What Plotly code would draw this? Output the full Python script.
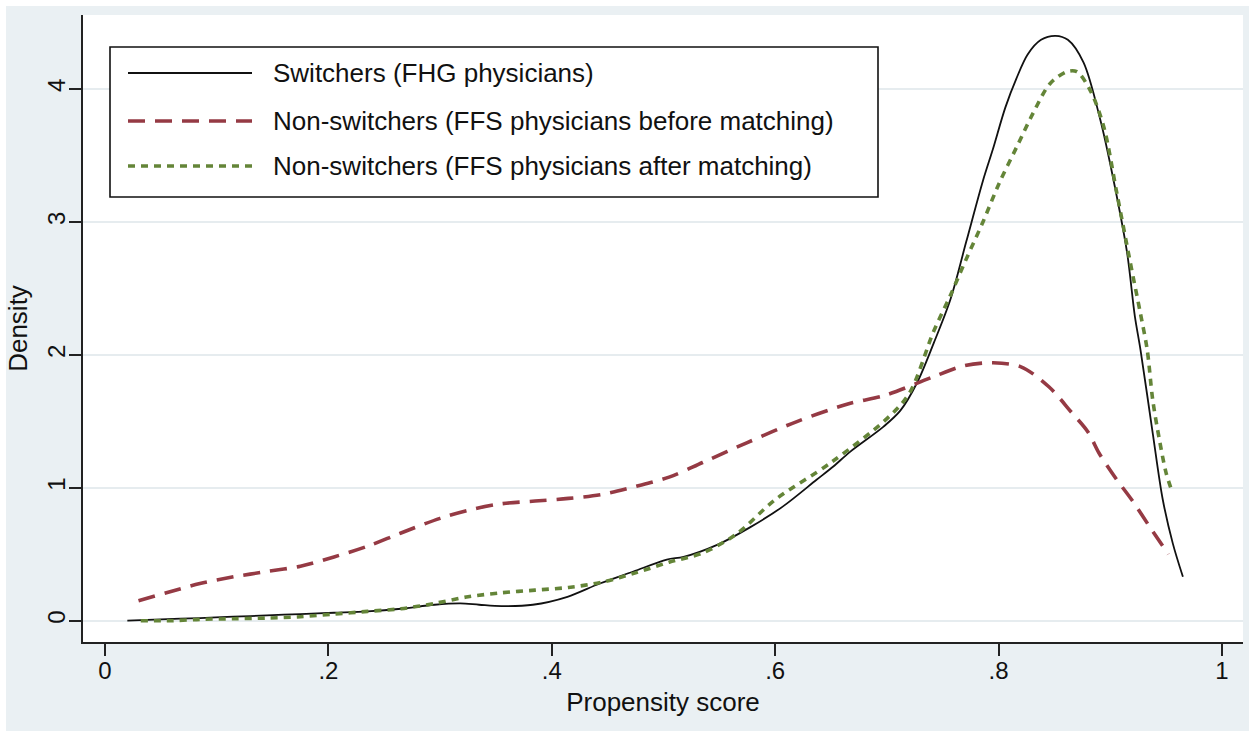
import plotly.graph_objects as go

# Kernel density estimates of the propensity score, by group
switch_x = [0.02, 0.05, 0.085, 0.115, 0.145, 0.175, 0.205, 0.235, 0.265, 0.295,
            0.318, 0.335, 0.355, 0.383, 0.414, 0.443, 0.473, 0.503, 0.518, 0.548,
            0.577, 0.607, 0.637, 0.652, 0.667, 0.697, 0.712, 0.727, 0.742, 0.757,
            0.771, 0.786, 0.795, 0.806, 0.816, 0.826, 0.838, 0.851, 0.862, 0.876,
            0.891, 0.903, 0.915, 0.922, 0.927, 0.938, 0.947, 0.956, 0.965]
switch_y = [0.0, 0.01, 0.02, 0.03, 0.04, 0.05, 0.06, 0.07, 0.09, 0.12,
            0.13, 0.12, 0.11, 0.12, 0.18, 0.28, 0.37, 0.46, 0.48, 0.57,
            0.70, 0.86, 1.06, 1.16, 1.27, 1.46, 1.58, 1.79, 2.09, 2.42,
            2.85, 3.31, 3.55, 3.86, 4.08, 4.26, 4.37, 4.40, 4.37, 4.20,
            3.77, 3.31, 2.77, 2.29, 2.04, 1.41, 0.91, 0.58, 0.33]

before_x = [0.03, 0.055, 0.085, 0.115, 0.145, 0.175, 0.205, 0.235, 0.265, 0.3,
            0.33, 0.355, 0.385, 0.415, 0.445, 0.475, 0.505, 0.535, 0.575, 0.62,
            0.665, 0.70, 0.74, 0.77, 0.795, 0.82, 0.845, 0.865, 0.88, 0.89,
            0.905, 0.92, 0.935, 0.952]
before_y = [0.15, 0.21, 0.28, 0.33, 0.37, 0.41, 0.48, 0.56, 0.66, 0.77,
            0.84, 0.88, 0.90, 0.92, 0.95, 1.01, 1.08, 1.19, 1.34, 1.50,
            1.63, 1.70, 1.83, 1.92, 1.94, 1.91, 1.76, 1.57, 1.42, 1.26,
            1.07, 0.90, 0.71, 0.50]

after_x = [0.032, 0.06, 0.085, 0.115, 0.145, 0.175, 0.205, 0.235, 0.265, 0.295,
           0.325, 0.355, 0.385, 0.415, 0.445, 0.475, 0.505, 0.535, 0.565, 0.6,
           0.65, 0.7, 0.72, 0.742, 0.757, 0.771, 0.786, 0.801, 0.816, 0.831,
           0.846, 0.861, 0.870, 0.882, 0.894, 0.906, 0.918, 0.927, 0.933, 0.938,
           0.944, 0.950, 0.955]
after_y = [0.0, 0.0, 0.01, 0.015, 0.02, 0.03, 0.05, 0.07, 0.09, 0.13,
           0.18, 0.21, 0.23, 0.25, 0.29, 0.36, 0.44, 0.51, 0.65, 0.91,
           1.19, 1.52, 1.71, 2.18, 2.45, 2.72, 3.0, 3.3, 3.56, 3.82,
           4.04, 4.13, 4.13, 3.99, 3.72, 3.21, 2.69, 2.31, 2.04, 1.66,
           1.36, 1.11, 0.98]

series_names = ["Switchers (FHG physicians)",
                "Non-switchers (FFS physicians before matching)",
                "Non-switchers (FFS physicians after matching)"]

x_tickvals = [0, 0.2, 0.4, 0.6, 0.8, 1.0]
x_ticktext = ["0", ".2", ".4", ".6", ".8", "1"]
y_tickvals = [0, 1, 2, 3, 4]
y_ticktext = ["0", "1", "2", "3", "4"]

FONT = "Liberation Sans, Arial, Helvetica, sans-serif"
BG = "#EAF0F3"
GRID = "#E6ECEF"
styles = [
    dict(color="#111111", width=1.8, dash="solid"),
    dict(color="#953A44", width=3.6, dash="17px,10px"),
    dict(color="#648538", width=3.6, dash="7px,6px"),
]

W, H = 1249, 731
PL, PR, PT, PB = 83, 1243, 15, 642


def fx(px):
    return (px - PL) / (PR - PL)


def fy(py):
    return (PB - py) / (PB - PT)


fig = go.Figure()
for xs, ys, name, st in zip([switch_x, before_x, after_x],
                            [switch_y, before_y, after_y],
                            series_names, styles):
    fig.add_trace(go.Scatter(x=xs, y=ys, mode="lines", name=name,
                             line=dict(shape="spline", smoothing=0.9, **st),
                             showlegend=False))

shapes = [
    # thin white page edge on the left and top
    dict(type="rect", xref="paper", yref="paper", x0=fx(0), x1=fx(6),
         y0=fy(H), y1=fy(0), fillcolor="white", line_width=0, layer="above"),
    dict(type="rect", xref="paper", yref="paper", x0=fx(0), x1=fx(W),
         y0=fy(6), y1=fy(0), fillcolor="white", line_width=0, layer="above"),
    # legend frame
    dict(type="rect", xref="paper", yref="paper", x0=fx(110), x1=fx(878),
         y0=fy(197), y1=fy(47), fillcolor="white",
         line=dict(color="#111111", width=1.6), layer="above"),
]
annotations = []
for row_py, name, st in zip([73, 121, 166], series_names, styles):
    shapes.append(dict(type="line", xref="paper", yref="paper",
                       x0=fx(128), x1=fx(252), y0=fy(row_py), y1=fy(row_py),
                       line=dict(color=st["color"], width=st["width"], dash=st["dash"]),
                       layer="above"))
    annotations.append(dict(xref="paper", yref="paper", x=fx(271), y=fy(row_py),
                            xanchor="left", yanchor="middle", showarrow=False,
                            text=name, font=dict(family=FONT, size=26, color="#111111")))

axis_common = dict(
    showline=True, linecolor="#222222", linewidth=2,
    ticks="outside", ticklen=12, tickwidth=1.5, tickcolor="#222222",
    zeroline=False,
    tickfont=dict(family=FONT, size=24, color="#111111"),
)

fig.update_layout(
    width=W, height=H,
    margin=dict(l=PL, r=W - PR, t=PT, b=H - PB, autoexpand=False),
    paper_bgcolor=BG, plot_bgcolor="white",
    shapes=shapes, annotations=annotations,
    xaxis=dict(range=[-0.0197, 1.0188], tickvals=x_tickvals, ticktext=x_ticktext,
               showgrid=False, ticklabelstandoff=-6,
               title=dict(text="Propensity score", standoff=10,
                          font=dict(family=FONT, size=26, color="#111111")),
               **axis_common),
    yaxis=dict(range=[-0.1602, 4.5566], tickvals=y_tickvals, ticktext=y_ticktext,
               showgrid=True, gridcolor=GRID, gridwidth=1.5, tickangle=-90,
               ticklabelstandoff=-6,
               title=dict(text="Density", standoff=8,
                          font=dict(family=FONT, size=26, color="#111111")),
               **axis_common),
    font=dict(family=FONT),
)

fig.write_html("out.html")
